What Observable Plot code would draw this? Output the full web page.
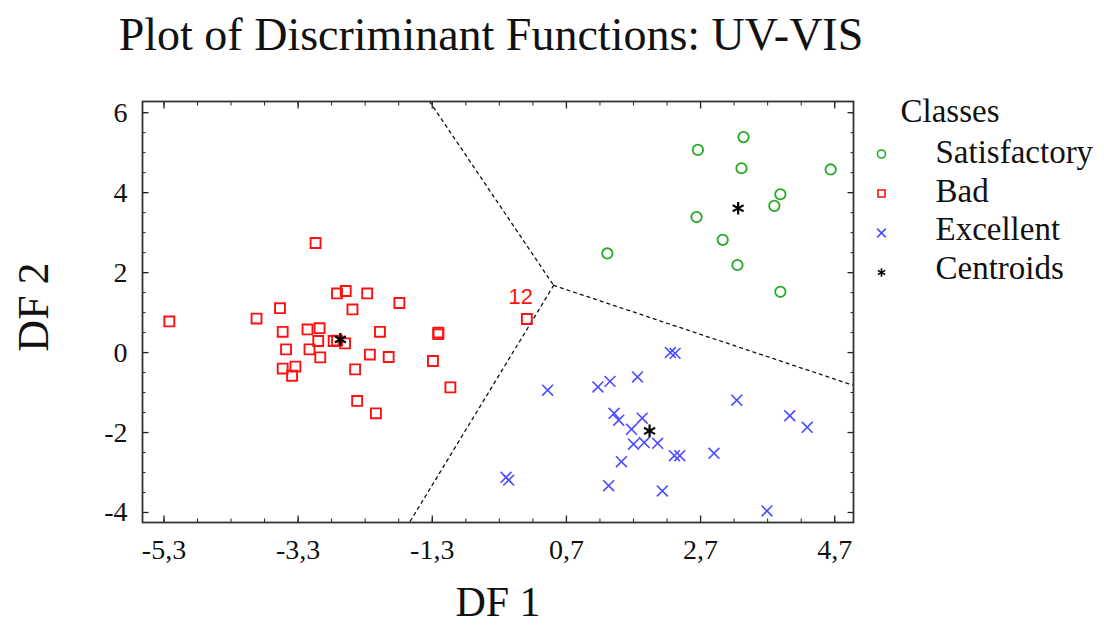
<!DOCTYPE html>
<html><head><meta charset="utf-8">
<script src="https://cdn.jsdelivr.net/npm/d3@7"></script>
<script src="https://cdn.jsdelivr.net/npm/@observablehq/plot@0.6"></script>
<style>
body{margin:0;background:#fff;}
#wrap{width:1104px;height:628px;position:relative;font-family:"Liberation Serif",serif;color:#111;}
#title{width:982px;height:70px;line-height:70px;text-align:center;font-size:46px;white-space:nowrap;}
</style></head><body>
<div id="wrap"><div id="title">Plot of Discriminant Functions: UV-VIS</div><div id="chart"></div></div>
<script>
// Data
const satisfactory = [[3.34,5.39],[2.66,5.07],[3.31,4.61],[4.64,4.58],[3.89,3.96],[3.80,3.67],[2.64,3.39],[3.03,2.82],[3.25,2.19],[1.31,2.48],[3.89,1.52]];
const bad = [[-5.22,0.78],[-3.92,0.85],[-3.57,1.11],[-3.53,0.52],[-3.48,0.08],[-3.53,-0.40],[-3.34,-0.35],[-3.39,-0.58],[-3.16,0.58],[-2.98,0.61],[-3.00,0.29],[-3.13,0.08],[-2.97,-0.12],[-3.04,2.74],[-2.72,1.48],[-2.59,1.54],[-2.49,1.08],[-2.27,1.48],[-1.79,1.24],[-2.77,0.29],[-2.72,0.30],[-2.60,0.23],[-2.08,0.52],[-2.23,-0.05],[-1.95,-0.11],[-2.45,-0.42],[-2.42,-1.21],[-2.14,-1.52],[-1.21,0.46],[-1.21,0.50],[-1.29,-0.21],[-1.03,-0.87],[0.11,0.84]];
const excellent = [[0.42,-0.94],[1.17,-0.86],[1.35,-0.72],[1.76,-0.61],[2.25,0.0],[2.32,-0.02],[1.41,-1.52],[1.48,-1.69],[1.67,-1.92],[1.83,-1.64],[1.70,-2.29],[1.86,-2.25],[2.06,-2.27],[2.31,-2.58],[2.39,-2.58],[1.52,-2.73],[2.90,-2.52],[3.24,-1.19],[4.03,-1.58],[4.29,-1.87],[3.69,-3.96],[2.13,-3.46],[1.33,-3.33],[-0.16,-3.19],[-0.20,-3.12]];
const centroids = [[3.26,3.61],[-2.67,0.33],[1.94,-1.96]];
const pointLabels = [{x:0.11, y:0.84, text:"12"}];
const boundaries = [
  {seg:"a", x:-1.34, y:6.28},{seg:"a", x:0.51, y:1.68},
  {seg:"b", x:0.51, y:1.68},{seg:"b", x:-1.64, y:-4.25},
  {seg:"c", x:0.51, y:1.68},{seg:"c", x:4.98, y:-0.82}
];
const xTickLabels = [-5.3,-3.3,-1.3,0.7,2.7,4.7];
const yTickLabels = [-4,-2,0,2,4,6];
const xMinorTicks = d3.range(0,21).map(i => -5.3 + i*0.5);
const yMinorTicks = d3.range(0,21).map(i => -4 + i*0.5);
const classes = ["Satisfactory","Bad","Excellent","Centroids"];
const classSymbols = ["circle","square","times","asterisk"];
const classColors = ["#22aa22","#ff1010","#4b4bff","#000000"];

const serif = '"Liberation Serif", "Times New Roman", serif';
const fmt = d => d.toFixed(1).replace(".", ",");

const legendMarks = [
  Plot.text(["Classes"], {frameAnchor:"top-right", text:d=>d, dx:47, dy:10, textAnchor:"start", lineAnchor:"middle", fontSize:33, fontFamily:serif, fill:"#111"})
];
classes.forEach((c, i) => {
  legendMarks.push(Plot.dot([c], {frameAnchor:"top-right", dx:28, dy:52.5 + i*39.5, symbol:classSymbols[i], r:4, stroke:classColors[i], strokeWidth:1.6, fill:"none"}));
  legendMarks.push(Plot.text([c], {frameAnchor:"top-right", text:d=>d, dx:82, dy:51 + i*38.5, textAnchor:"start", lineAnchor:"middle", fontSize:33, fontFamily:serif, fill:"#111"}));
});

const chart = Plot.plot({
  width:1104, height:558,
  marginLeft:142, marginRight:251, marginTop:31, marginBottom:106,
  style:{fontFamily:serif, fontSize:"27px", background:"white", color:"#111"},
  x:{domain:[-5.62,4.98], axis:null},
  y:{domain:[-4.25,6.28], axis:null},
  marks:[
    Plot.line(boundaries, {x:"x", y:"y", z:"seg", stroke:"#111", strokeWidth:1.3, strokeDasharray:"3,4"}),
    Plot.dot(satisfactory, {x:d=>d[0], y:d=>d[1], symbol:"circle", r:5.2, stroke:classColors[0], strokeWidth:1.8, fill:"none"}),
    Plot.dot(bad, {x:d=>d[0], y:d=>d[1], symbol:"square", r:5.6, stroke:classColors[1], strokeWidth:1.9, fill:"none"}),
    Plot.dot(excellent, {x:d=>d[0], y:d=>d[1], symbol:"times", r:5, stroke:classColors[2], strokeWidth:1.6, fill:"none"}),
    Plot.dot(centroids, {x:d=>d[0], y:d=>d[1], symbol:"asterisk", r:6, stroke:"#000", strokeWidth:2.2}),
    Plot.text(pointLabels, {x:"x", y:"y", text:"text", dx:-6, dy:-22, fill:"#ff1010", fontSize:22, fontFamily:'"Liberation Sans", Arial, sans-serif'}),
    // inward ticks on all sides
    Plot.axisX(xMinorTicks, {anchor:"bottom", tickSize:-3.5, tickFormat:()=>"", label:null, stroke:"#222"}),
    Plot.axisX(xMinorTicks, {anchor:"top", tickSize:-3.5, tickFormat:()=>"", label:null, stroke:"#222"}),
    Plot.axisX(xTickLabels, {anchor:"bottom", tickSize:-6.5, tickFormat:()=>"", label:null, stroke:"#222", strokeWidth:1.3}),
    Plot.axisX(xTickLabels, {anchor:"top", tickSize:-6.5, tickFormat:()=>"", label:null, stroke:"#222", strokeWidth:1.3}),
    Plot.axisY(yMinorTicks, {anchor:"left", tickSize:-3.5, tickFormat:()=>"", label:null, stroke:"#222"}),
    Plot.axisY(yMinorTicks, {anchor:"right", tickSize:-3.5, tickFormat:()=>"", label:null, stroke:"#222"}),
    Plot.axisY(yTickLabels, {anchor:"left", tickSize:-6.5, tickFormat:()=>"", label:null, stroke:"#222", strokeWidth:1.3}),
    Plot.axisY(yTickLabels, {anchor:"right", tickSize:-6.5, tickFormat:()=>"", label:null, stroke:"#222", strokeWidth:1.3}),
    // tick labels
    Plot.axisX(xTickLabels, {anchor:"bottom", tickSize:0, tickPadding:17, tickFormat:fmt, label:null, fontSize:28, fontFamily:serif, fill:"#111"}),
    Plot.axisY(yTickLabels, {anchor:"left", tickSize:0, tickPadding:15, tickFormat:d=>String(d), label:null, fontSize:28, fontFamily:serif, fill:"#111"}),
    Plot.frame({stroke:"#333", strokeWidth:1.8}),
    // axis titles
    Plot.text(["DF 1"], {frameAnchor:"bottom", text:d=>d, dy:80, textAnchor:"middle", lineAnchor:"middle", fontSize:42, fontFamily:serif, fill:"#111"}),
    Plot.text(["DF 2"], {frameAnchor:"left", text:d=>d, dx:-109, dy:-5, rotate:-90, textAnchor:"middle", lineAnchor:"middle", fontSize:44, fontFamily:serif, fill:"#111"}),
    ...legendMarks
  ]
});
document.getElementById("chart").appendChild(chart);
</script>
</body></html>
